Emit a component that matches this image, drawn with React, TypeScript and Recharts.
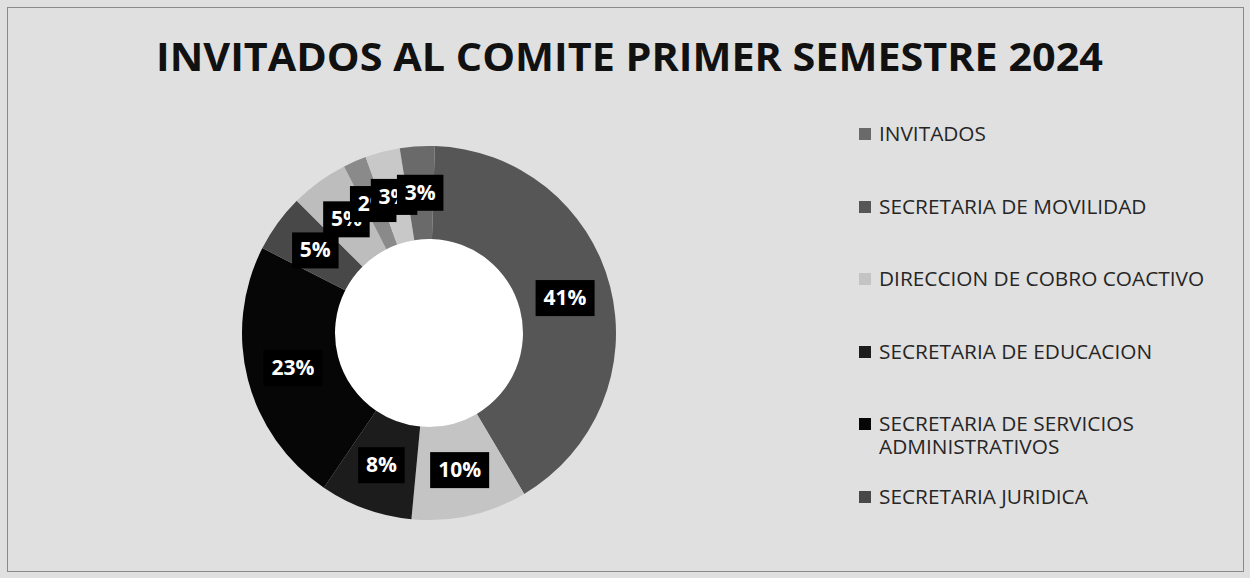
import { PieChart, Pie, Cell, Legend } from "recharts";

// legend order (as in the source workbook)
const categories = [
  "INVITADOS",
  "SECRETARIA DE MOVILIDAD",
  "DIRECCION DE COBRO COACTIVO",
  "SECRETARIA DE EDUCACION",
  "SECRETARIA DE SERVICIOS ADMINISTRATIVOS",
  "SECRETARIA JURIDICA",
  "OTROS 1",
  "OTROS 2",
  "OTROS 3",
];
const values = [3, 41, 10, 8, 23, 5, 5, 2, 3];
const colors = ["#6a6a6a", "#565656", "#c4c4c4", "#1c1c1c", "#060606", "#484848", "#bdbdbd", "#8a8a8a", "#c8c8c8"];
// only the first entries fit in the legend box
const legendCount = 6;

const title = "INVITADOS AL COMITE PRIMER SEMESTRE 2024";

const W = 1250;
const H = 578;
const CX = 429;
const CY = 333;
const R_IN = 94;
const R_OUT = 187;
const RAD = Math.PI / 180;

const rows = categories.map((name, i) => ({ name, value: values[i], color: colors[i] }));
// same ring, rotated so INVITADOS is drawn last and its label sits on top
const pieData = [...rows.slice(1), rows[0]];
const total = values.reduce((a, b) => a + b, 0);

function renderLabel(props: any) {
  const { cx, cy, midAngle, innerRadius, outerRadius, value, index } = props;
  const r = (innerRadius + outerRadius) / 2;
  const x = cx + r * Math.cos(-midAngle * RAD);
  const y = cy + r * Math.sin(-midAngle * RAD);
  const text = `${Math.round((value / total) * 100)}%`;
  const bw = (text.length - 1) * 12.5 + 34;
  const bh = 36;
  return (
    <g key={`lbl-${index}`}>
      <rect x={x - bw / 2} y={y - bh / 2} width={bw} height={bh} fill="#000" />
      <text
        x={x}
        y={y}
        dy={7}
        textAnchor="middle"
        fill="#fff"
        fontFamily="'Open Sans', sans-serif"
        fontWeight={700}
        fontSize={21}
      >
        {text}
      </text>
    </g>
  );
}

function renderLegend() {
  return (
    <div style={{ fontFamily: "'Open Sans', sans-serif", fontSize: 20.8, color: "#262626" }}>
      {rows.slice(0, legendCount).map((r) => (
        <div key={r.name} style={{ display: "flex", alignItems: "flex-start", height: 72.5 }}>
          <div style={{ width: 12, height: 12, background: r.color, marginTop: 6, marginRight: 8, flex: "none" }} />
          <div style={{ width: 345, lineHeight: "23px" }}>{r.name}</div>
        </div>
      ))}
    </div>
  );
}

export default function App() {
  return (
    <div style={{ position: "fixed", left: 0, top: 0, width: W, height: H, background: "#e0e0e0", overflow: "hidden" }}>
      <div
        style={{
          position: "absolute",
          left: 7,
          top: 7,
          width: W - 15,
          height: H - 15,
          border: "1px solid #8a8a8a",
        }}
      />
      <div
        style={{
          position: "absolute",
          left: CX - R_IN,
          top: CY - R_IN,
          width: R_IN * 2,
          height: R_IN * 2,
          borderRadius: "50%",
          background: "#fff",
        }}
      />
      <svg style={{ position: "absolute", left: 0, top: 0 }} width={W} height={90}>
        <text
          x={629.5}
          y={71}
          textAnchor="middle"
          textLength={947}
          lengthAdjust="spacingAndGlyphs"
          fontFamily="'Open Sans', sans-serif"
          fontWeight={700}
          fontSize={39}
          fill="#111"
        >
          {title}
        </text>
      </svg>
      <div style={{ position: "absolute", left: 0, top: 0 }}>
        <PieChart width={W} height={H} margin={{ top: 0, right: 0, bottom: 0, left: 0 }}>
          <Pie
            data={pieData}
            dataKey="value"
            nameKey="name"
            cx={CX}
            cy={CY}
            innerRadius={R_IN}
            outerRadius={R_OUT}
            startAngle={88.2}
            endAngle={-271.8}
            stroke="none"
            label={renderLabel}
            labelLine={false}
            isAnimationActive={false}
          >
            {pieData.map((d) => (
              <Cell key={d.name} fill={d.color} />
            ))}
          </Pie>
          <Legend
            content={renderLegend}
            layout="vertical"
            wrapperStyle={{ position: "absolute", left: 859, top: 122, width: 380 }}
          />
        </PieChart>
      </div>
    </div>
  );
}
